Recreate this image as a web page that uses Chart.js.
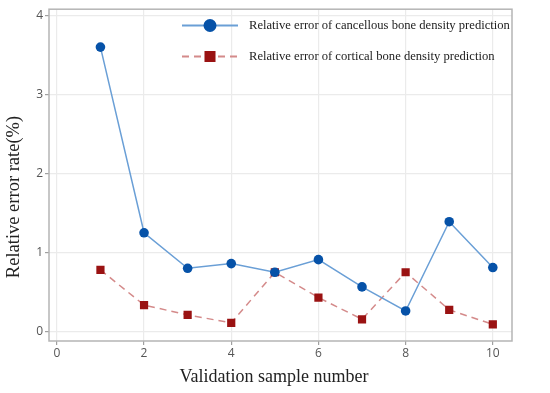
<!DOCTYPE html>
<html>
<head>
<meta charset="utf-8">
<script src="https://cdn.jsdelivr.net/npm/chart.js@4.4.0/dist/chart.umd.min.js"></script>
<style>
  html, body { margin: 0; padding: 0; background: #fff; }
  #wrap { width: 550px; height: 393px; }
</style>
</head>
<body>
<div id="wrap"><canvas id="errChart" width="550" height="393"></canvas></div>
<script>
// --- DATA ---
const sampleNumbers = [1, 2, 3, 4, 5, 6, 7, 8, 9, 10];
const cancellousError = [3.60, 1.25, 0.80, 0.86, 0.75, 0.91, 0.565, 0.26, 1.39, 0.81];
const corticalError = [0.78, 0.335, 0.21, 0.11, 0.75, 0.43, 0.155, 0.75, 0.275, 0.09];
const seriesLabels = [
  "Relative error of cancellous bone density prediction",
  "Relative error of cortical bone density prediction"
];
const xTitle = "Validation sample number";
const yTitle = "Relative error rate(%)";

const toPoints = (ys) => ys.map((y, i) => ({ x: sampleNumbers[i], y: y }));
const serif = "'Liberation Serif', 'Times New Roman', serif";

// --- FRAME + AXIS TITLES ---
const framePlugin = {
  id: "frame",
  afterDraw(chart) {
    const a = chart.chartArea;
    const ctx = chart.ctx;
    ctx.save();
    ctx.strokeStyle = "#b5b5b5";
    ctx.lineWidth = 1.5;
    ctx.strokeRect(a.left, a.top, a.right - a.left, a.bottom - a.top);

    ctx.fillStyle = "#222";
    ctx.textAlign = "center";
    ctx.textBaseline = "middle";
    ctx.font = "18px " + serif;
    ctx.fillText(xTitle, 274, 377);
    ctx.translate(14, 197);
    ctx.rotate(-Math.PI / 2);
    ctx.font = "18.5px " + serif;
    ctx.fillText(yTitle, 0, 0);
    ctx.restore();
  }
};

// --- LEGEND (line + marker, like the original) ---
const legendPlugin = {
  id: "lineLegend",
  afterDraw(chart) {
    const ctx = chart.ctx;
    const rows = [
      { y: 25.5, ds: chart.data.datasets[0], r: 6.5 },
      { y: 56.5, ds: chart.data.datasets[1], r: 7.8 }
    ];
    ctx.save();
    rows.forEach((row) => {
      const ds = row.ds;
      ctx.strokeStyle = ds.borderColor;
      ctx.lineWidth = 2.2;
      ctx.setLineDash(ds.borderDash || []);
      ctx.beginPath();
      ctx.moveTo(182, row.y);
      ctx.lineTo(238, row.y);
      ctx.stroke();
      ctx.setLineDash([]);
      ctx.fillStyle = ds.pointBackgroundColor;
      ctx.strokeStyle = ds.pointBackgroundColor;
      Chart.helpers.drawPoint(ctx, { pointStyle: ds.pointStyle, radius: row.r, borderWidth: 0 }, 210, row.y);
      ctx.fillStyle = "#222";
      ctx.font = "12.6px " + serif;
      ctx.textBaseline = "middle";
      ctx.textAlign = "left";
      ctx.fillText(ds.label, 249, row.y);
    });
    ctx.restore();
  }
};

const tickFont = { family: "'Open Sans', 'DejaVu Sans', sans-serif", size: 12 };

const ctx = document.getElementById("errChart").getContext("2d");
const errChart = new Chart(ctx, {
  type: "line",
  data: {
    datasets: [
      {
        label: seriesLabels[0],
        data: toPoints(cancellousError),
        borderColor: "#6a9fd6",
        borderWidth: 1.5,
        pointStyle: "circle",
        pointRadius: 4.8,
        pointBackgroundColor: "#0652a8",
        pointBorderColor: "#0652a8",
        pointBorderWidth: 0,
        tension: 0
      },
      {
        label: seriesLabels[1],
        data: toPoints(corticalError),
        borderColor: "#d48a8a",
        borderWidth: 1.5,
        borderDash: [7, 5],
        pointStyle: "rect",
        pointRadius: 5.8,
        pointBackgroundColor: "#9a1212",
        pointBorderColor: "#9a1212",
        pointBorderWidth: 0,
        tension: 0
      }
    ]
  },
  options: {
    responsive: false,
    animation: false,
    layout: { padding: { top: 7, right: 38, left: 0, bottom: 0 } },
    plugins: { legend: { display: false }, tooltip: { enabled: false } },
    scales: {
      x: {
        type: "linear",
        min: -0.18,
        max: 10.44,
        afterFit(scale) { scale.height = 52; },
        border: { display: false },
        grid: { color: "#ebebeb", lineWidth: 1.2, tickColor: "#a0a0a0", tickLength: 4 },
        ticks: { stepSize: 2, includeBounds: false, color: "#555", padding: 1, font: tickFont }
      },
      y: {
        min: -0.12,
        max: 4.08,
        afterFit(scale) { scale.width = 49; },
        border: { display: false },
        grid: { color: "#ebebeb", lineWidth: 1.2, tickColor: "#a0a0a0", tickLength: 4 },
        ticks: { stepSize: 1, includeBounds: false, color: "#555", padding: 2, font: tickFont }
      }
    }
  },
  plugins: [framePlugin, legendPlugin]
});
</script>
</body>
</html>
